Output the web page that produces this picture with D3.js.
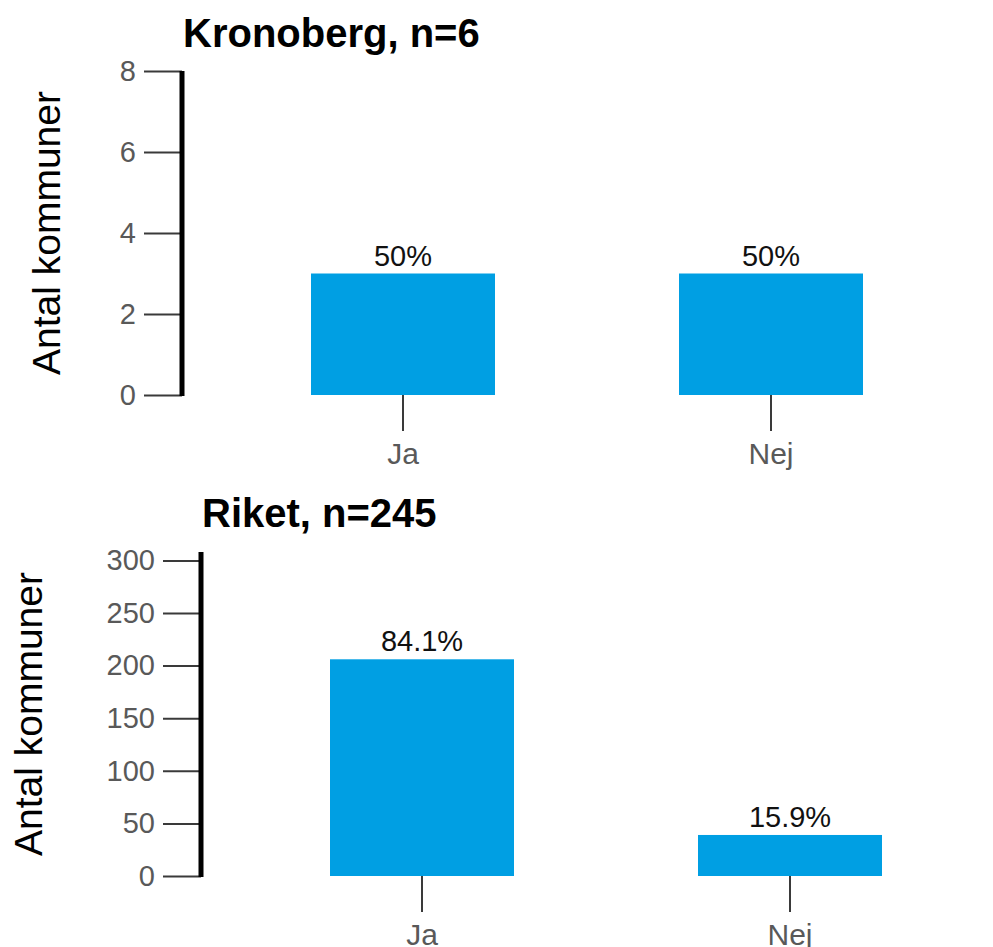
<!DOCTYPE html>
<html>
<head>
<meta charset="utf-8">
<script src="https://cdn.jsdelivr.net/npm/d3@7"></script>
<style>
  html, body { margin: 0; padding: 0; background: #fff; }
  svg { display: block; }
  text { font-family: "Liberation Sans", Arial, sans-serif; }
</style>
</head>
<body>
<svg id="chart" width="993" height="947"></svg>
<script>
// ---- data ----
const categories = ["Ja", "Nej"];
const panelNames = ["Kronoberg", "Riket"];
const panelN = [6, 245];
const kronobergCounts = [3, 3];
const riketCounts = [206, 39];
const kronobergLabels = ["50%", "50%"];
const riketLabels = ["84.1%", "15.9%"];
const kronobergTicks = [0, 2, 4, 6, 8];
const riketTicks = [0, 50, 100, 150, 200, 250, 300];
const kronobergMax = 8;
const riketMax = 308;
const yTitle = "Antal kommuner";

// ---- layout ----
const svg = d3.select("#chart");
const barColor = "#009FE3";

const panels = [
  { name: panelNames[0], n: panelN[0], counts: kronobergCounts, labels: kronobergLabels,
    ticks: kronobergTicks, max: kronobergMax, axisX: 182, top: 71, bottom: 395,
    titleY: 47, yLabelX: 60 },
  { name: panelNames[1], n: panelN[1], counts: riketCounts, labels: riketLabels,
    ticks: riketTicks, max: riketMax, axisX: 201, top: 552, bottom: 876,
    titleY: 527, yLabelX: 42 }
];

panels.forEach(p => {
  const g = svg.append("g");

  const x = d3.scaleBand()
    .domain(categories)
    .range([p.axisX + 37, p.axisX + 773])
    .paddingInner(0.5)
    .paddingOuter(0.25);

  const y = d3.scaleLinear()
    .domain([0, p.max])
    .range([p.bottom, p.top]);

  // bars
  g.selectAll("rect.bar")
    .data(categories)
    .join("rect")
    .attr("class", "bar")
    .attr("x", d => x(d))
    .attr("width", x.bandwidth())
    .attr("y", (d, i) => y(p.counts[i]))
    .attr("height", (d, i) => y(0) - y(p.counts[i]))
    .attr("fill", barColor);

  // value labels
  g.selectAll("text.val")
    .data(categories)
    .join("text")
    .attr("class", "val")
    .attr("x", d => x(d) + x.bandwidth() / 2)
    .attr("y", (d, i) => y(p.counts[i]) - 8)
    .attr("text-anchor", "middle")
    .attr("font-size", 29)
    .attr("fill", "#111")
    .text((d, i) => p.labels[i]);

  // y axis
  const yAxis = d3.axisLeft(y)
    .tickValues(p.ticks)
    .tickSize(38)
    .tickPadding(8)
    .tickFormat(d3.format("d"));
  const ya = g.append("g")
    .attr("transform", `translate(${p.axisX},0)`)
    .call(yAxis);
  ya.select(".domain").remove();
  ya.selectAll(".tick line").attr("stroke", "#3a3a3a").attr("stroke-width", 2);
  ya.selectAll(".tick text")
    .attr("font-size", 29)
    .attr("fill", "#595959")
    .attr("font-family", "Liberation Sans, Arial, sans-serif");
  // thick axis line
  g.append("line")
    .attr("x1", p.axisX).attr("x2", p.axisX)
    .attr("y1", y.range()[1]).attr("y2", y.range()[0] + 1)
    .attr("stroke", "#000")
    .attr("stroke-width", 5);

  // x axis (ticks only)
  const xAxis = d3.axisBottom(x)
    .tickSize(36)
    .tickPadding(12);
  const xa = g.append("g")
    .attr("transform", `translate(0,${p.bottom})`)
    .call(xAxis);
  xa.select(".domain").remove();
  xa.selectAll(".tick line").attr("stroke", "#3a3a3a").attr("stroke-width", 2);
  xa.selectAll(".tick text")
    .attr("font-size", 30)
    .attr("fill", "#595959")
    .attr("font-family", "Liberation Sans, Arial, sans-serif");

  // title
  g.append("text")
    .attr("x", p.axisX + 1)
    .attr("y", p.titleY)
    .attr("font-size", 40)
    .attr("font-weight", "bold")
    .attr("fill", "#000")
    .text(`${p.name}, n=${p.n}`);

  // y axis title
  g.append("text")
    .attr("transform", `translate(${p.yLabelX},${(p.top + p.bottom) / 2}) rotate(-90)`)
    .attr("text-anchor", "middle")
    .attr("font-size", 39)
    .attr("fill", "#000")
    .text(yTitle);
});
</script>
</body>
</html>
